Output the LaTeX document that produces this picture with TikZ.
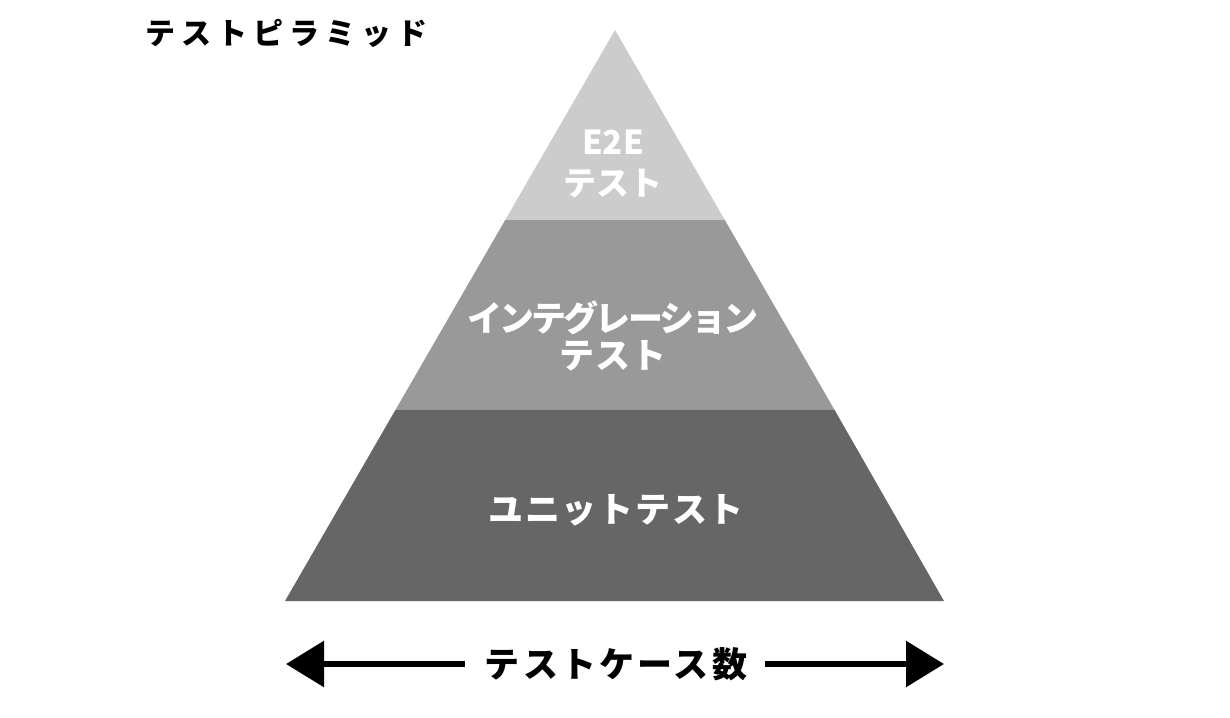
\documentclass[tikz,border=0pt]{standalone}
\usepackage{fontspec}
\setmainfont{Noto Sans CJK JP}
\newfontfamily\jp{Noto Sans CJK JP}
\usetikzlibrary{arrows.meta}
\definecolor{topc}{HTML}{CCCCCC}
\definecolor{midc}{HTML}{999999}
\definecolor{botc}{HTML}{666666}
\tikzset{
  lbl/.style={text=white, font=\jp\bfseries\fontsize{35}{37}\selectfont, align=center, inner sep=0pt},
  ttl/.style={text=black, font=\jp\bfseries\fontsize{30}{32}\selectfont\addfontfeatures{LetterSpace=20}, inner sep=0pt},
  arr/.style={line width=6pt, -{Triangle[length=38pt,width=45pt]}},
}
\begin{document}
\begin{tikzpicture}[x=1pt,y=-1pt]
\useasboundingbox (0,0) rectangle (1230,717);
% pyramid
\coordinate (A) at (615,30);
\coordinate (BL) at (285,601);
\coordinate (BR) at (944,601);
\fill[topc] (A) -- (505.2,220) -- (724.8,220) -- cycle;
\fill[midc] (505.2,220) -- (395.4,410) -- (834.6,410) -- (724.8,220) -- cycle;
\fill[botc] (395.4,410) -- (BL) -- (BR) -- (834.6,410) -- cycle;
% labels
\node[lbl, font=\jp\bfseries\fontsize{33}{41}\selectfont] (e2e) at (613,164) {E2E\\テスト};
\node[lbl] (integ) at (613,336) {{\addfontfeatures{LetterSpace=-8}インテグレーション}\\{\addfontfeatures{LetterSpace=2}テスト}};
\node[lbl, font=\jp\bfseries\fontsize{35}{37}\selectfont\addfontfeatures{LetterSpace=5}] (unit) at (616,510) {ユニットテスト};
\node[ttl, anchor=west] (title) at (145,33) {テストピラミッド};
% arrow
\node[text=black, font=\jp\bfseries\fontsize{35}{37}\selectfont\addfontfeatures{LetterSpace=9}, inner sep=0pt] (cnt) at (616,664) {テストケース数};
\coordinate (L0) at (465,664);
\coordinate (R0) at (765,664);
\coordinate (L) at (286,664);
\coordinate (R) at (944,664);
\draw[arr] (L0) -- (L);
\draw[arr] (R0) -- (R);
\end{tikzpicture}
\end{document}
